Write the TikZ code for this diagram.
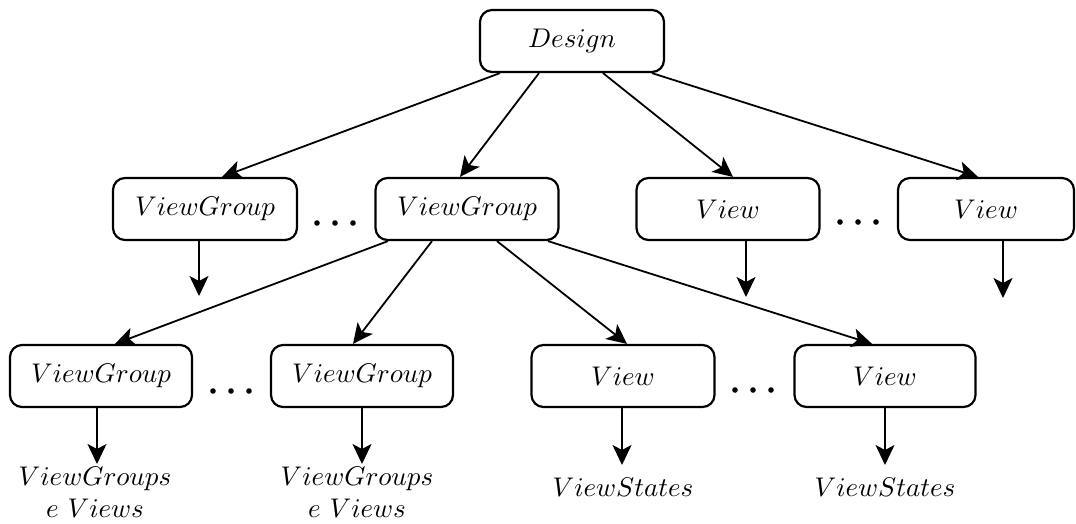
\documentclass[tikz,border=0pt]{standalone}
\usepackage{graphicx}
\usetikzlibrary{arrows.meta}
% text set at 10pt and enlarged to the drawing's scale
\newcommand{\magtext}[1]{\scalebox{2.7}{#1}}
\begin{document}
\begin{tikzpicture}[x=1pt,y=-1pt,
  box/.style={draw,line width=2.2pt,rounded corners=12pt,minimum height=62pt,
              inner sep=0pt},
  lbl/.style={inner sep=0pt},
  dotmark/.style={circle,fill,inner sep=0pt,minimum size=5.6pt},
  link/.style={line width=1.8pt,-{Stealth[length=20pt,width=19pt,inset=5pt]}}]
\useasboundingbox (0,0) rectangle (1076,523);

% root
\node[box,minimum width=184pt] (d) at (572,41) {\magtext{$Design$}};

% second level
\node[box,minimum width=184pt] (g1) at (205,209) {\magtext{$ViewGroup$}};
\node[box,minimum width=183pt] (g2) at (467,209) {\magtext{$ViewGroup$}};
\node[box,minimum width=183pt] (v1) at (728,209) {\magtext{$View$}};
\node[box,minimum width=176pt] (v2) at (986,209) {\magtext{$View$}};

% third level
\node[box,minimum width=182pt] (h1) at (101,376) {\magtext{$ViewGroup$}};
\node[box,minimum width=182pt] (h2) at (362,376) {\magtext{$ViewGroup$}};
\node[box,minimum width=183pt] (w1) at (623,376) {\magtext{$View$}};
\node[box,minimum width=181pt] (w2) at (885,376) {\magtext{$View$}};

% ellipsis dots between siblings
\foreach \x/\y/\n in {317/223/a1, 335/223/a2, 353/223/a3,
                      840/222/b1, 858/222/b2, 876/222/b3,
                      213/391/c1, 231/391/c2, 249/391/c3,
                      735/390/e1, 753/390/e2, 771/390/e3}
  \node[dotmark] (dot\n) at (\x,\y) {};

% leaf captions
\node[lbl] (l1) at (95,495)
  {\magtext{\begin{tabular}{@{}c@{}}$ViewGroups$\\$e\ Views$\end{tabular}}};
\node[lbl] (l2) at (357,495)
  {\magtext{\begin{tabular}{@{}c@{}}$ViewGroups$\\$e\ Views$\end{tabular}}};
\node[lbl] (l3) at (623,487) {\magtext{$ViewStates$}};
\node[lbl] (l4) at (885,487) {\magtext{$ViewStates$}};

% arrow ends
\coordinate (o1) at (199,296);
\coordinate (o2) at (746,297);
\coordinate (o3) at (1003,298);
\coordinate (f1) at (97,464);
\coordinate (f2) at (362,464);
\coordinate (f3) at (622,465);
\coordinate (f4) at (885,465);

% root to second level
\draw[link] ([xshift=-72pt]d.south) -- ([xshift=17pt]g1.north);
\draw[link] ([xshift=-33pt]d.south) -- ([xshift=-7pt]g2.north);
\draw[link] ([xshift=31pt]d.south) -- ([xshift=5pt]v1.north);
\draw[link] ([xshift=80pt]d.south) -- ([xshift=-8pt]v2.north);

% second level to third level
\draw[link] ([xshift=-79pt]g2.south) -- ([xshift=14pt]h1.north);
\draw[link] ([xshift=-35pt]g2.south) -- ([xshift=-9pt]h2.north);
\draw[link] ([xshift=30pt]g2.south) -- ([xshift=4pt]w1.north);
\draw[link] ([xshift=81pt]g2.south) -- ([xshift=-13pt]w2.north);

% downward arrows
\draw[link] (g1.south -| o1) -- (o1);
\draw[link] (v1.south -| o2) -- (o2);
\draw[link] (v2.south -| o3) -- (o3);
\draw[link] (h1.south -| f1) -- (f1);
\draw[link] (h2.south -| f2) -- (f2);
\draw[link] (w1.south -| f3) -- (f3);
\draw[link] (w2.south -| f4) -- (f4);
\end{tikzpicture}
\end{document}
